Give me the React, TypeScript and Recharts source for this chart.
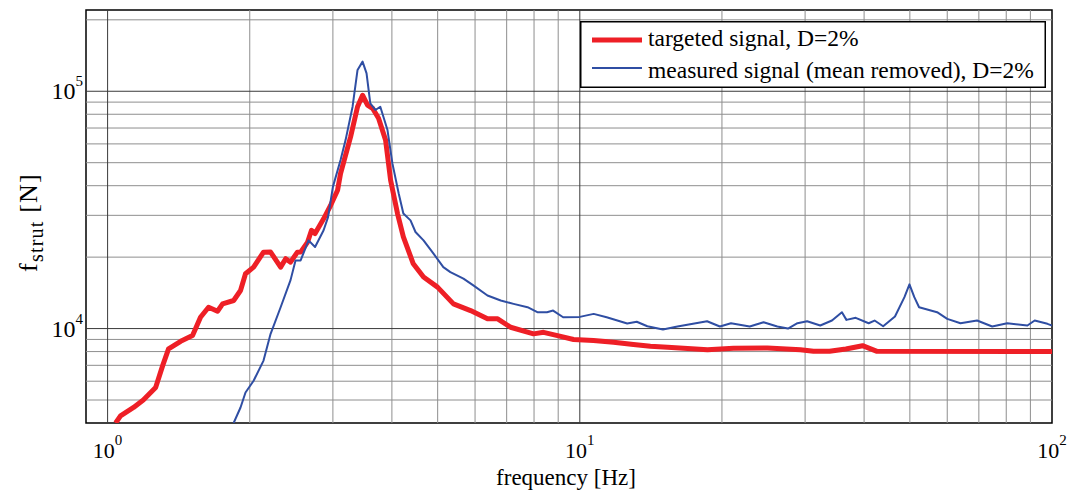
import React from 'react';
import { LineChart, Line, XAxis, YAxis, ReferenceLine, ReferenceArea, Legend } from 'recharts';

// ---- data (frequency in Hz, force in N) ----
const targetFreq = [
  1.04, 1.065, 1.135, 1.19, 1.264, 1.308, 1.346, 1.428, 1.513, 1.536, 1.573, 1.636, 1.709, 1.752,
  1.849, 1.912, 1.959, 2.038, 2.139, 2.214, 2.325, 2.383, 2.44, 2.523, 2.563, 2.652, 2.703, 2.75,
  2.867, 2.966, 3.069, 3.114, 3.27, 3.383, 3.467, 3.552, 3.64, 3.748, 3.879, 3.975, 4.111, 4.23,
  4.44, 4.667, 4.997, 5.4, 5.87, 6.375, 6.7, 7.135, 7.98, 8.38, 8.97, 9.7, 10.69, 11.79, 12.99,
  14.11, 15.34, 18.64, 21.16, 24.97, 29.33, 31.25, 33.8, 36.6, 39.7, 42.6, 100,
];
const targetForce = [
  4000, 4290, 4650, 5000, 5650, 6980, 8210, 8840, 9340, 10000, 11160, 12300, 11830, 12710,
  13130, 14470, 17020, 18150, 20990, 21000, 18150, 19690, 19060, 20990, 21000, 23150, 25950, 25130,
  29000, 33000, 38270, 45030, 64250, 86070, 96200, 87470, 84750, 76900, 62250, 42190, 30520, 24320,
  18750, 16480, 14950, 12710, 11910, 10990, 10990, 10130, 9500, 9640, 9340, 8990, 8900, 8750, 8560,
  8420, 8340, 8150, 8260, 8290, 8150, 8020, 8020, 8200, 8470, 8020, 8000,
];

const measuredFreq = [
  1.849, 1.912, 1.959, 2.038, 2.139, 2.214, 2.325, 2.44, 2.5, 2.563, 2.664, 2.75, 2.867, 2.93,
  3.0, 3.114, 3.191, 3.302, 3.383, 3.467, 3.535, 3.6, 3.69, 3.78, 3.915, 4.01, 4.135, 4.23, 4.38,
  4.488, 4.667, 4.9, 5.14, 5.32, 5.67, 5.95, 6.375, 6.8, 7.24, 7.75, 8.13, 8.52, 8.78, 9.22, 10,
  10.7, 11.4, 12.6, 13.2, 13.9, 15.0, 16.1, 18.6, 19.8, 20.9, 22.9, 24.5, 26.2, 27.6, 28.9, 30.3,
  32.3, 34.2, 35.9, 36.7, 38.4, 40.9, 42.1, 43.9, 46.5, 48.7, 49.9, 51.1, 52.3, 57.1, 60, 64,
  69.4, 74.7, 80.4, 88.7, 91.9, 97.8, 100,
];
const measuredForce = [
  4000, 4650, 5380, 6030, 7330, 9500, 12300, 16000, 19370, 19370, 23530, 22060, 25950, 29500,
  39540, 51290, 62250, 86070, 123000, 133300, 119000, 89000, 83400, 86070, 68640, 49670, 37080, 30520, 28570,
  25520, 23530, 20690, 18150, 17300, 16230, 15200, 13790, 13130, 12710, 12300, 11720, 11720, 11910, 11160, 11200,
  11530, 11160, 10500, 10680, 10230, 9900, 10200, 10740, 10200, 10530, 10200, 10630, 10200, 10000, 10530, 10740,
  10300, 10810, 11720, 10880, 11100, 10530, 10810, 10230, 11240, 13560, 15350, 13560, 12300, 11720, 10990, 10530,
  10810, 10200, 10530, 10300, 10810, 10470, 10300,
];

const seriesNames = ['targeted signal, D=2%', 'measured signal (mean removed), D=2%'];
const xTicks = [1, 10, 100];
const yTicks = [10000, 100000];
const xMajorGrid = [1, 10];
const xMinorGrid = [2, 3, 4, 5, 6, 7, 8, 9, 20, 30, 40, 50, 60, 70, 80, 90];
const yMajorGrid = [10000, 100000];
const yMinorGrid = [5000, 6000, 7000, 8000, 9000, 20000, 30000, 40000, 50000, 60000, 70000, 80000, 90000, 200000];
const xDomain = [0.9, 100];
const yDomain = [4000, 220000];

const targetData = targetFreq.map((f, i) => ({ f, v: targetForce[i] }));
const measuredData = measuredFreq.map((f, i) => ({ f, v: measuredForce[i] }));

const SERIF = '"Liberation Serif", "Times New Roman", serif';
const RED = '#ee1f26';
const BLUE = '#2f4ea3';
const MINOR = '#8e8e8e';
const MAJOR = '#3a3a3a';

const XTick = (props: any) => {
  const { x, y, payload } = props;
  const exp = Math.round(Math.log10(payload.value));
  return (
    <text x={x} y={y + 35} textAnchor="middle" fontFamily={SERIF} fontSize={22} fill="#000">
      <tspan>10</tspan>
      <tspan dy={-13} fontSize={15}>{exp}</tspan>
    </text>
  );
};

const YTick = (props: any) => {
  const { x, y, payload } = props;
  const exp = Math.round(Math.log10(payload.value));
  return (
    <text x={x - 3} y={y + 8} textAnchor="end" fontFamily={SERIF} fontSize={24} fill="#000">
      <tspan>10</tspan>
      <tspan dy={-13} fontSize={15}>{exp}</tspan>
    </text>
  );
};

const YLabel = (props: any) => {
  const vb = props.viewBox || { x: 0, y: 10, width: 86, height: 413 };
  const cx = vb.x + 37;
  const cy = vb.y + vb.height / 2 + 6;
  return (
    <text
      x={cx}
      y={cy}
      transform={`rotate(-90, ${cx}, ${cy})`}
      textAnchor="middle"
      fontFamily={SERIF}
      fontSize={26}
      letterSpacing={1.2}
      fill="#000"
    >
      <tspan>f</tspan>
      <tspan dy={6} fontSize={20}>strut</tspan>
      <tspan dy={-6}> [N]</tspan>
    </text>
  );
};

const XLabel = (props: any) => {
  const vb = props.viewBox || { x: 86, y: 423, width: 966, height: 68 };
  return (
    <text x={vb.x + vb.width / 2 - 3} y={vb.y + 62} textAnchor="middle" fontFamily={SERIF} fontSize={23} fill="#000">
      frequency [Hz]
    </text>
  );
};

const renderLegend = (props: any) => {
  const payload = (props && props.payload) || [];
  const widths = [5, 2];
  const rows = seriesNames.map((name, i) => {
    const entry = payload.find((p: any) => p.value === name);
    return { name, color: entry ? entry.color : i === 0 ? RED : BLUE, w: widths[i] };
  });
  return (
    <svg width={466} height={67} style={{ display: 'block' }}>
      <rect x={0.75} y={0.75} width={464.5} height={65.5} fill="#fff" stroke="#000" strokeWidth={1.5} />
      {rows.map((r, i) => (
        <g key={r.name}>
          <line x1={12} x2={62} y1={19 + i * 28} y2={19 + i * 28} stroke={r.color} strokeWidth={r.w} />
          <text x={68} y={25 + i * 32} fontFamily={SERIF} fontSize={23.5} fill="#000">
            {r.name}
          </text>
        </g>
      ))}
    </svg>
  );
};

export default function App() {
  return (
    <div style={{ position: 'absolute', left: 0, top: 0, width: 1068, height: 491, background: '#fff' }}>
      <LineChart width={1068} height={491} margin={{ top: 10, right: 16, bottom: 0, left: 0 }}>
        <XAxis
          dataKey="f"
          type="number"
          scale="log"
          domain={xDomain}
          allowDataOverflow
          ticks={xTicks}
          tick={<XTick />}
          tickLine={false}
          axisLine={false}
          tickSize={0}
          tickMargin={0}
          height={68}
          label={<XLabel />}
        />
        <YAxis
          dataKey="v"
          type="number"
          scale="log"
          domain={yDomain}
          allowDataOverflow
          ticks={yTicks}
          tick={<YTick />}
          tickLine={false}
          axisLine={false}
          tickSize={0}
          tickMargin={0}
          width={86}
          label={<YLabel />}
        />
        {yMinorGrid.map((v) => (
          <ReferenceLine key={'ym' + v} y={v} stroke={MINOR} strokeWidth={1} />
        ))}
        {xMinorGrid.map((v) => (
          <ReferenceLine key={'xm' + v} x={v} stroke={MINOR} strokeWidth={1} />
        ))}
        {yMajorGrid.map((v) => (
          <ReferenceLine key={'yM' + v} y={v} stroke={MAJOR} strokeWidth={1} />
        ))}
        {xMajorGrid.map((v) => (
          <ReferenceLine key={'xM' + v} x={v} stroke={MAJOR} strokeWidth={1} />
        ))}
        <Line
          data={targetData}
          dataKey="v"
          name={seriesNames[0]}
          type="linear"
          stroke={RED}
          strokeWidth={5}
          strokeLinejoin="round"
          dot={false}
          activeDot={false}
          isAnimationActive={false}
        />
        <Line
          data={measuredData}
          dataKey="v"
          name={seriesNames[1]}
          type="linear"
          stroke={BLUE}
          strokeWidth={2}
          strokeLinejoin="round"
          dot={false}
          activeDot={false}
          isAnimationActive={false}
        />
        <ReferenceArea
          x1={xDomain[0]}
          x2={xDomain[1]}
          y1={yDomain[0]}
          y2={yDomain[1]}
          fill="none"
          fillOpacity={0}
          stroke="#000"
          strokeWidth={1.5}
          ifOverflow="visible"
        />
        <Legend
          layout="vertical"
          align="center"
          verticalAlign="middle"
          content={renderLegend}
          wrapperStyle={{ position: 'absolute', left: 580, top: 21, width: 466, height: 67 }}
        />
      </LineChart>
    </div>
  );
}
